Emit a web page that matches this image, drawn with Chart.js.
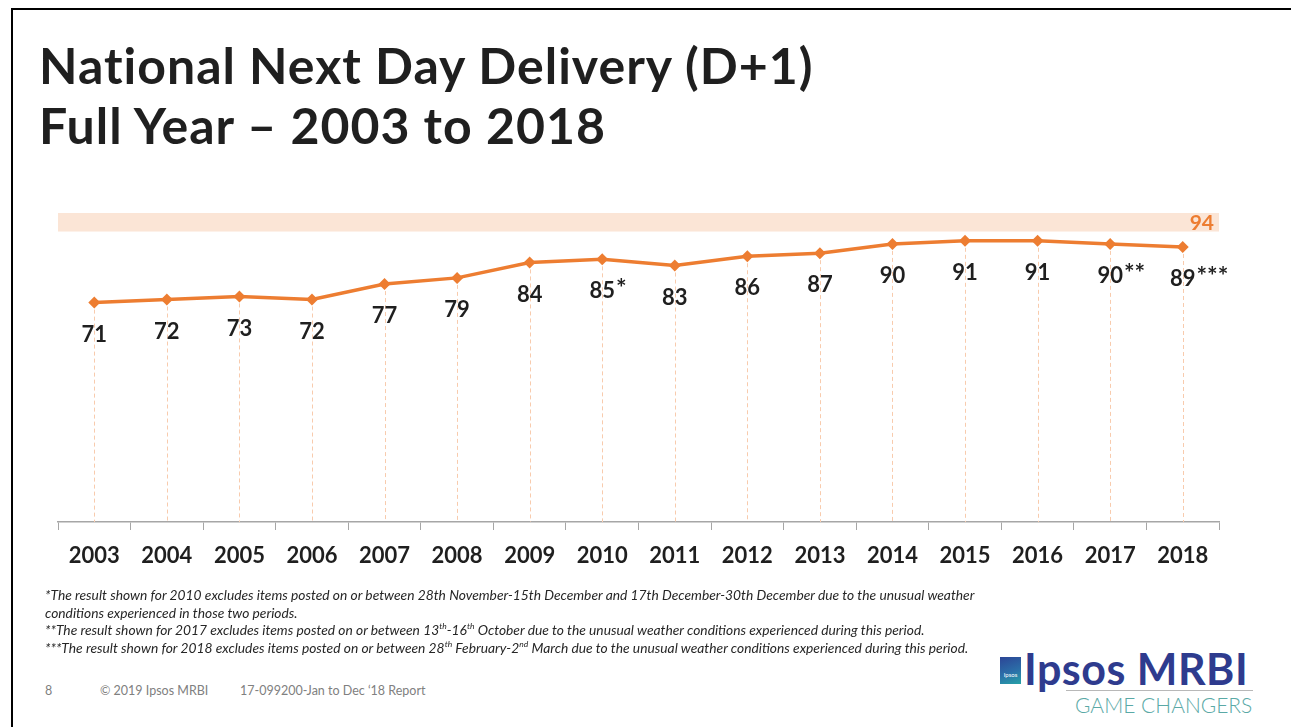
<!DOCTYPE html>
<html>
<head>
<meta charset="utf-8">
<script src="https://cdn.jsdelivr.net/npm/chart.js@4.4.1/dist/chart.umd.min.js"></script>
<style>
body { margin: 0; background: #fff; width: 1291px; height: 727px; overflow: hidden; position: relative; font-family: Lato, sans-serif; }
.frame { position: absolute; left: 11px; top: 8px; right: 0; bottom: 0; border-top: 2px solid #000; border-left: 2px solid #000; }
h1 { position: absolute; left: 39px; top: 35px; margin: 0; font: bold 50px Lato; line-height: 60px; letter-spacing: 1px; color: #1f1f1f; }
#wrap { position: absolute; left: 0; top: 0; width: 1291px; height: 600px; }
.notes { position: absolute; left: 45px; top: 586px; font: italic 13.8px Lato; color: #262626; line-height: 17.5px; }
.notes sup { font-size: 8.5px; line-height: 0; }
.foot { position: absolute; top: 683px; font: 12.5px Lato; color: #808080; }
.logo-box { position: absolute; left: 1000px; top: 657px; width: 21px; height: 27px; background: linear-gradient(160deg, #2c4596 0%, #2b6ea8 55%, #27a3a8 100%); color: #fff; font: 6px Lato; text-align: center; line-height: 36px; }
.logo { position: absolute; left: 1024px; top: 643px; font: bold 43px Lato; color: #2e3b8e; letter-spacing: 0.5px; }
.logo-line { position: absolute; left: 1066px; top: 690px; width: 187px; height: 1px; background: #b8b8b8; }
.logo-sub { position: absolute; left: 1075px; top: 692px; font: 21px Lato; color: #5aa9a6; font-weight: 300; }
</style>
</head>
<body>
<div class="frame"></div>
<h1>National Next Day Delivery (D+1)<br>Full Year – 2003 to 2018</h1>
<div id="wrap"><canvas id="chart"></canvas></div>
<div class="notes">
*The result shown for 2010 excludes items posted on or between 28th November-15th December and 17th December-30th December due to the unusual weather<br>
conditions experienced in those two periods.<br>
**The result shown for 2017 excludes items posted on or between 13<sup>th</sup>-16<sup>th</sup> October due to the unusual weather conditions experienced during this period.<br>
***The result shown for 2018 excludes items posted on or between 28<sup>th</sup> February-2<sup>nd</sup> March due to the unusual weather conditions experienced during this period.
</div>
<div class="foot" style="left:45px">8</div>
<div class="foot" style="left:100px">© 2019 Ipsos MRBI</div>
<div class="foot" style="left:240px">17-099200-Jan to Dec ‘18 Report</div>
<div class="logo-box">Ipsos</div>
<div class="logo">Ipsos MRBI</div>
<div class="logo-line"></div>
<div class="logo-sub">GAME CHANGERS</div>
<script>
const years = ['2003', '2004', '2005', '2006', '2007', '2008', '2009', '2010', '2011', '2012', '2013', '2014', '2015', '2016', '2017', '2018'];
const values = [71, 72, 73, 72, 77, 79, 84, 85, 83, 86, 87, 90, 91, 91, 90, 89];
const valueNotes = ['', '', '', '', '', '', '', '*', '', '', '', '', '', '', '**', '***'];
const target = 94;
const targetTop = 100;

const orange = '#ED7D31';

const decor = {
    id: 'decor',
    beforeDatasetsDraw(chart) {
        const { ctx, chartArea, scales: { y } } = chart;
        ctx.save();
        // target band
        const top = y.getPixelForValue(targetTop);
        const bot = y.getPixelForValue(target);
        ctx.fillStyle = '#FBE5D6';
        ctx.fillRect(chartArea.left, top, chartArea.right - chartArea.left, bot - top);
        // dashed drop lines
        const meta = chart.getDatasetMeta(0);
        ctx.strokeStyle = '#F8CBAD';
        ctx.lineWidth = 1;
        ctx.setLineDash([4, 3]);
        meta.data.forEach(p => {
            const x = Math.round(p.x) + 0.5;
            ctx.beginPath();
            ctx.moveTo(x, p.y);
            ctx.lineTo(x, chartArea.bottom);
            ctx.stroke();
        });
        ctx.restore();
    },
    afterDatasetsDraw(chart) {
        const { ctx, chartArea, scales: { y } } = chart;
        const meta = chart.getDatasetMeta(0);
        ctx.save();
        ctx.fillStyle = '#1f1f1f';
        ctx.textBaseline = 'middle';
        meta.data.forEach((p, i) => {
            const txt = String(values[i]);
            ctx.font = 'bold 22px Lato';
            const w = ctx.measureText(txt).width;
            ctx.textAlign = 'center';
            ctx.fillText(txt, p.x, p.y + 32);
            if (valueNotes[i]) {
                ctx.textAlign = 'left';
                ctx.font = 'bold 25px Lato';
                ctx.fillText(valueNotes[i], p.x + w / 2 + 1, p.y + 30);
            }
        });
        // target label
        const mid = (y.getPixelForValue(targetTop) + y.getPixelForValue(target)) / 2;
        ctx.fillStyle = orange;
        ctx.font = 'bold 21px Lato';
        ctx.textAlign = 'right';
        ctx.fillText(String(target), chartArea.right - 5, mid + 1);
        ctx.restore();
    }
};

const ctx = document.getElementById('chart').getContext('2d');
const deliveryChart = new Chart(ctx, {
    type: 'line',
    data: {
        labels: years,
        datasets: [{
            label: 'D+1',
            data: values,
            borderColor: orange,
            backgroundColor: orange,
            borderWidth: 3.5,
            pointStyle: 'rectRot',
            pointRadius: 6,
            pointBorderWidth: 0,
            tension: 0
        }]
    },
    options: {
        responsive: true,
        maintainAspectRatio: false,
        animation: false,
        layout: {
            padding: { left: 58, right: 72, top: 213, bottom: 28 }
        },
        plugins: {
            legend: { display: false },
            tooltip: { enabled: false }
        },
        scales: {
            x: {
                offset: true,
                afterFit(scale) { scale.height = 50; },
                grid: {
                    offset: true,
                    drawOnChartArea: false,
                    tickLength: 8,
                    color: '#a6a6a6'
                },
                border: { color: '#a6a6a6', width: 1.5 },
                ticks: {
                    color: '#1f1f1f',
                    font: { family: 'Lato', size: 22, weight: 'bold' },
                    padding: 13,
                    maxRotation: 0
                }
            },
            y: {
                display: false,
                min: 0,
                max: 100
            }
        }
    },
    plugins: [decor]
});
</script>
</body>
</html>
